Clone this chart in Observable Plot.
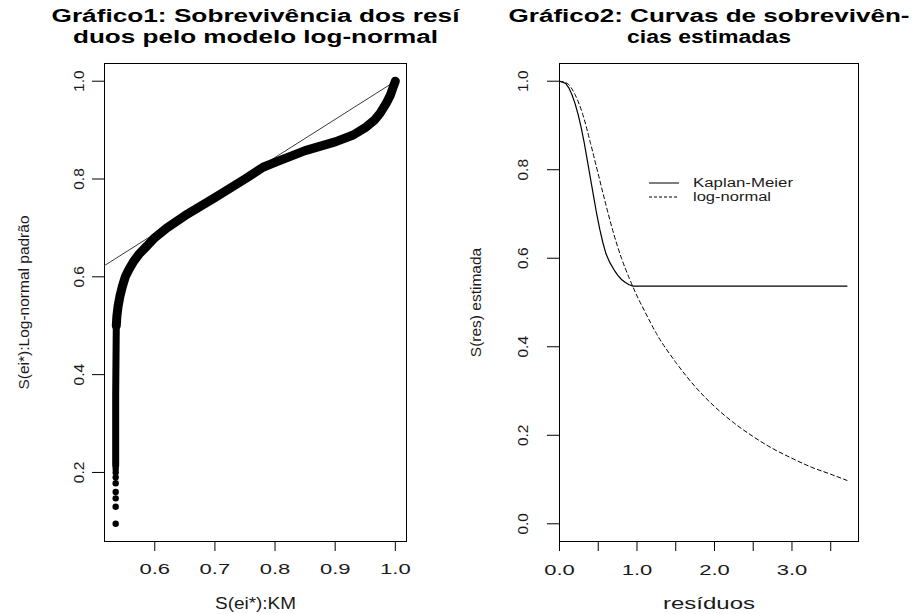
<!DOCTYPE html>
<html>
<head>
<meta charset="utf-8">
<script src="https://cdn.jsdelivr.net/npm/d3@7"></script>
<script src="https://cdn.jsdelivr.net/npm/@observablehq/plot@0.6"></script>
<style>
  html, body { margin: 0; padding: 0; background: #fff; }
  body { width: 913px; height: 614px; position: relative; overflow: hidden; font-family: "Liberation Sans", Arial, sans-serif; }
  .panel { position: absolute; top: 0; }
  .panel svg { overflow: visible; }
  #legend { position: absolute; left: 0; top: 0; }
</style>
</head>
<body>
<div id="left" class="panel" style="left:0px"></div>
<div id="right" class="panel" style="left:456px"></div>
<svg id="legend" width="913" height="614"></svg>
<script>
// ---------- data: left panel ----------
const leftTitle = ["Gráfico1: Sobrevivência dos resí", "duos pelo modelo log-normal"];
const leftXLabel = "S(ei*):KM";
const leftYLabel = "S(ei*):Log-normal padrão";
const leftXTicks = [0.6, 0.7, 0.8, 0.9, 1.0];
const leftYTicks = [0.2, 0.4, 0.6, 0.8, 1.0];

// isolated points at the bottom of the vertical column
const sparseX = [0.535, 0.535, 0.535, 0.535, 0.535, 0.535, 0.535, 0.535];
const sparseY = [0.095, 0.130, 0.147, 0.160, 0.178, 0.190, 0.200, 0.207];
// dense vertical column of points
const columnX = [0.535, 0.535, 0.536];
const columnY = [0.214, 0.360, 0.500];
// dense curved band of points
const curveX = [0.536, 0.537, 0.539, 0.542, 0.546, 0.551, 0.557, 0.565, 0.575, 0.587, 0.600, 0.620, 0.650, 0.700, 0.750, 0.780, 0.800, 0.850, 0.900, 0.930, 0.950, 0.965, 0.975, 0.985, 0.992, 0.997, 1.000];
const curveY = [0.500, 0.520, 0.540, 0.560, 0.580, 0.600, 0.615, 0.632, 0.648, 0.663, 0.680, 0.700, 0.725, 0.762, 0.800, 0.824, 0.834, 0.858, 0.876, 0.890, 0.905, 0.920, 0.935, 0.955, 0.972, 0.990, 1.000];
// reference straight line (endpoints)
const refX = [0.5164, 1.0];
const refY = [0.623, 1.0];

// ---------- data: right panel ----------
const rightTitle = ["Gráfico2: Curvas de sobrevivên-", "cias estimadas"];
const rightXLabel = "resíduos";
const rightYLabel = "S(res) estimada";
const rightXTicks = [0, 0.5, 1.0, 1.5, 2.0, 2.5, 3.0, 3.5];
const rightXTickLabels = [0, 1.0, 2.0, 3.0];
const rightYTicks = [0, 0.2, 0.4, 0.6, 0.8, 1.0];
const legendLabels = ["Kaplan-Meier", "log-normal"];

const kmX = [0, 0.08, 0.12, 0.16, 0.20, 0.24, 0.28, 0.32, 0.36, 0.40, 0.44, 0.48, 0.52, 0.56, 0.60, 0.65, 0.70, 0.75, 0.80, 0.85, 0.90, 0.95, 3.71];
const kmY = [1.0, 0.995, 0.985, 0.970, 0.950, 0.925, 0.895, 0.860, 0.820, 0.780, 0.740, 0.700, 0.665, 0.635, 0.610, 0.590, 0.575, 0.562, 0.552, 0.545, 0.540, 0.537, 0.537];
const lnX = [0, 0.1, 0.2, 0.3, 0.4, 0.5, 0.6, 0.7, 0.8, 0.9, 1.0, 1.1, 1.25, 1.5, 1.75, 2.0, 2.25, 2.5, 2.75, 3.0, 3.25, 3.5, 3.71];
const lnY = [1.0, 0.995, 0.970, 0.925, 0.860, 0.790, 0.720, 0.655, 0.600, 0.555, 0.515, 0.480, 0.430, 0.365, 0.310, 0.265, 0.228, 0.197, 0.170, 0.148, 0.128, 0.112, 0.098];

// ---------- helpers ----------
const FONT = "Liberation Sans, Arial, sans-serif";
const fmt = d => d.toFixed(1);
const zip = (xs, ys) => xs.map((x, i) => ({x, y: ys[i]}));
const padDomain = (lo, hi, f = 0.04) => [lo - (hi - lo) * f, hi + (hi - lo) * f];

const allLeftX = [...sparseX, ...columnX, ...curveX];
const allLeftY = [...sparseY, ...columnY, ...curveY];
const leftXDom = padDomain(d3.min(allLeftX), d3.max(allLeftX));
const leftYDom = padDomain(d3.min(allLeftY), d3.max(allLeftY));

const baseStyle = {fontFamily: FONT, fontSize: "15.5px", color: "#000", background: "transparent", overflow: "visible"};
const T1 = -46.8, T2 = -26.3; // title line centres above the frame
const C = {textAnchor: "middle", lineAnchor: "middle"};
const LBL = "#1a1a1a";

const leftPlot = Plot.plot({
  width: 456, height: 614,
  marginLeft: 104, marginRight: 50, marginTop: 63, marginBottom: 73,
  style: baseStyle,
  x: {domain: leftXDom},
  y: {domain: leftYDom},
  marks: [
    Plot.axisX(leftXTicks, {tickSize: 10, tickFormat: () => "", label: null, stroke: "#000"}),
    Plot.axisY(leftYTicks, {tickSize: 12, tickFormat: () => "", label: null, stroke: "#000"}),
    Plot.frame({stroke: "#000", strokeWidth: 1}),
    Plot.line(zip(refX, refY), {x: "x", y: "y", stroke: "#3a3a3a", strokeWidth: 1}),
    Plot.line(zip(columnX, columnY), {x: "x", y: "y", stroke: "#000", strokeWidth: 7, strokeLinecap: "round"}),
    Plot.line(zip(curveX, curveY), {x: "x", y: "y", stroke: "#000", strokeWidth: 9, strokeLinecap: "round", strokeLinejoin: "round"}),
    Plot.dot(zip(sparseX, sparseY), {x: "x", y: "y", r: 3.2, fill: "#000", stroke: null}),
    Plot.text(leftXTicks, {...C, x: d => d, frameAnchor: "bottom", dy: 28, text: fmt, fill: LBL, ariaLabel: () => "xticklabels"}),
    Plot.text(leftYTicks, {...C, y: d => d, frameAnchor: "left", dx: -25, rotate: -90, text: fmt, fill: LBL}),
    Plot.text([leftXLabel], {...C, frameAnchor: "bottom", dy: 62, text: d => d, fontSize: 16, fill: LBL, ariaLabel: () => "xtitle"}),
    Plot.text([leftYLabel], {...C, frameAnchor: "left", dx: -80, rotate: -90, text: d => d, fill: LBL}),
    Plot.text([leftTitle[0]], {...C, frameAnchor: "top", dy: T1, text: d => d, fontWeight: "bold", fontSize: 18, ariaLabel: () => "title"}),
    Plot.text([leftTitle[1]], {...C, frameAnchor: "top", dy: T2, text: d => d, fontWeight: "bold", fontSize: 18, ariaLabel: () => "title"})
  ]
});

const rightPlot = Plot.plot({
  width: 457, height: 614,
  marginLeft: 103, marginRight: 55, marginTop: 63, marginBottom: 73,
  style: baseStyle,
  x: {domain: [0, d3.max(kmX) * 1.04]},
  y: {domain: padDomain(0, 1)},
  marks: [
    Plot.axisX(rightXTicks, {tickSize: 10, tickFormat: () => "", label: null, stroke: "#000"}),
    Plot.axisY(rightYTicks, {tickSize: 12, tickFormat: () => "", label: null, stroke: "#000"}),
    Plot.frame({stroke: "#000", strokeWidth: 1}),
    Plot.line(zip(lnX, lnY), {x: "x", y: "y", stroke: "#000", strokeWidth: 1, strokeDasharray: "4,3", curve: "monotone-x"}),
    Plot.line(zip(kmX, kmY), {x: "x", y: "y", stroke: "#000", strokeWidth: 1.2, curve: "linear"}),
    Plot.text(rightXTickLabels, {...C, x: d => d, frameAnchor: "bottom", dy: 29, text: fmt, fill: LBL, ariaLabel: () => "xticklabels"}),
    Plot.text(rightYTicks, {...C, y: d => d, frameAnchor: "left", dx: -36, rotate: -90, text: fmt, fill: LBL}),
    Plot.text([rightXLabel], {...C, frameAnchor: "bottom", dy: 62, text: d => d, fontSize: 16, fill: LBL, ariaLabel: () => "xtitle"}),
    Plot.text([rightYLabel], {...C, frameAnchor: "left", dx: -83, rotate: -90, text: d => d, fill: LBL}),
    Plot.text([rightTitle[0]], {...C, frameAnchor: "top", dy: T1, text: d => d, fontWeight: "bold", fontSize: 18, ariaLabel: () => "title"}),
    Plot.text([rightTitle[1]], {...C, frameAnchor: "top", dy: T2, text: d => d, fontWeight: "bold", fontSize: 18, ariaLabel: () => "title"})
  ]
});

document.getElementById("left").appendChild(leftPlot);
document.getElementById("right").appendChild(rightPlot);

// horizontal stretch of horizontal texts (the reference renders glyphs wide)
const targetWidths = {
  "Gráfico1: Sobrevivência dos resí": 408,
  "duos pelo modelo log-normal": 365,
  "Gráfico2: Curvas de sobrevivên-": 401,
  "cias estimadas": 164,
  "S(ei*):KM": 81,
  "resíduos": 92
};
function findTexts(root, label) {
  const out = [];
  root.querySelectorAll(`[aria-label="${label}"]`).forEach(el => {
    if (el.tagName.toLowerCase() === "text") out.push(el);
    else el.querySelectorAll("text").forEach(t => out.push(t));
  });
  return out;
}
function stretch(root, label, factor) {
  findTexts(root, label).forEach(t => {
    const txt = t.textContent;
    const w = t.getComputedTextLength();
    if (!w) return;
    const target = targetWidths[txt] != null ? targetWidths[txt] : w * factor;
    t.setAttribute("textLength", target);
    t.setAttribute("lengthAdjust", "spacingAndGlyphs");
  });
}
for (const svg of [leftPlot, rightPlot]) {
  stretch(svg, "xticklabels", 1.42);
  stretch(svg, "xtitle", 1.4);
  stretch(svg, "title", 1.38);
}

// legend (inside right panel)
const lg = d3.select("#legend");
const items = [
  {label: legendLabels[0], dash: null, ly: 183, ty: 187.4, w: 100},
  {label: legendLabels[1], dash: "3,2", ly: 197, ty: 201.4, w: 78}
];
for (const it of items) {
  lg.append("line").attr("x1", 649).attr("x2", 679).attr("y1", it.ly).attr("y2", it.ly)
    .attr("stroke", "#000").attr("stroke-width", 1).attr("stroke-dasharray", it.dash);
  lg.append("text").attr("x", 693).attr("y", it.ty)
    .attr("font-family", FONT).attr("font-size", 12).attr("fill", LBL)
    .attr("textLength", it.w).attr("lengthAdjust", "spacingAndGlyphs")
    .text(it.label);
}
</script>
</body>
</html>
